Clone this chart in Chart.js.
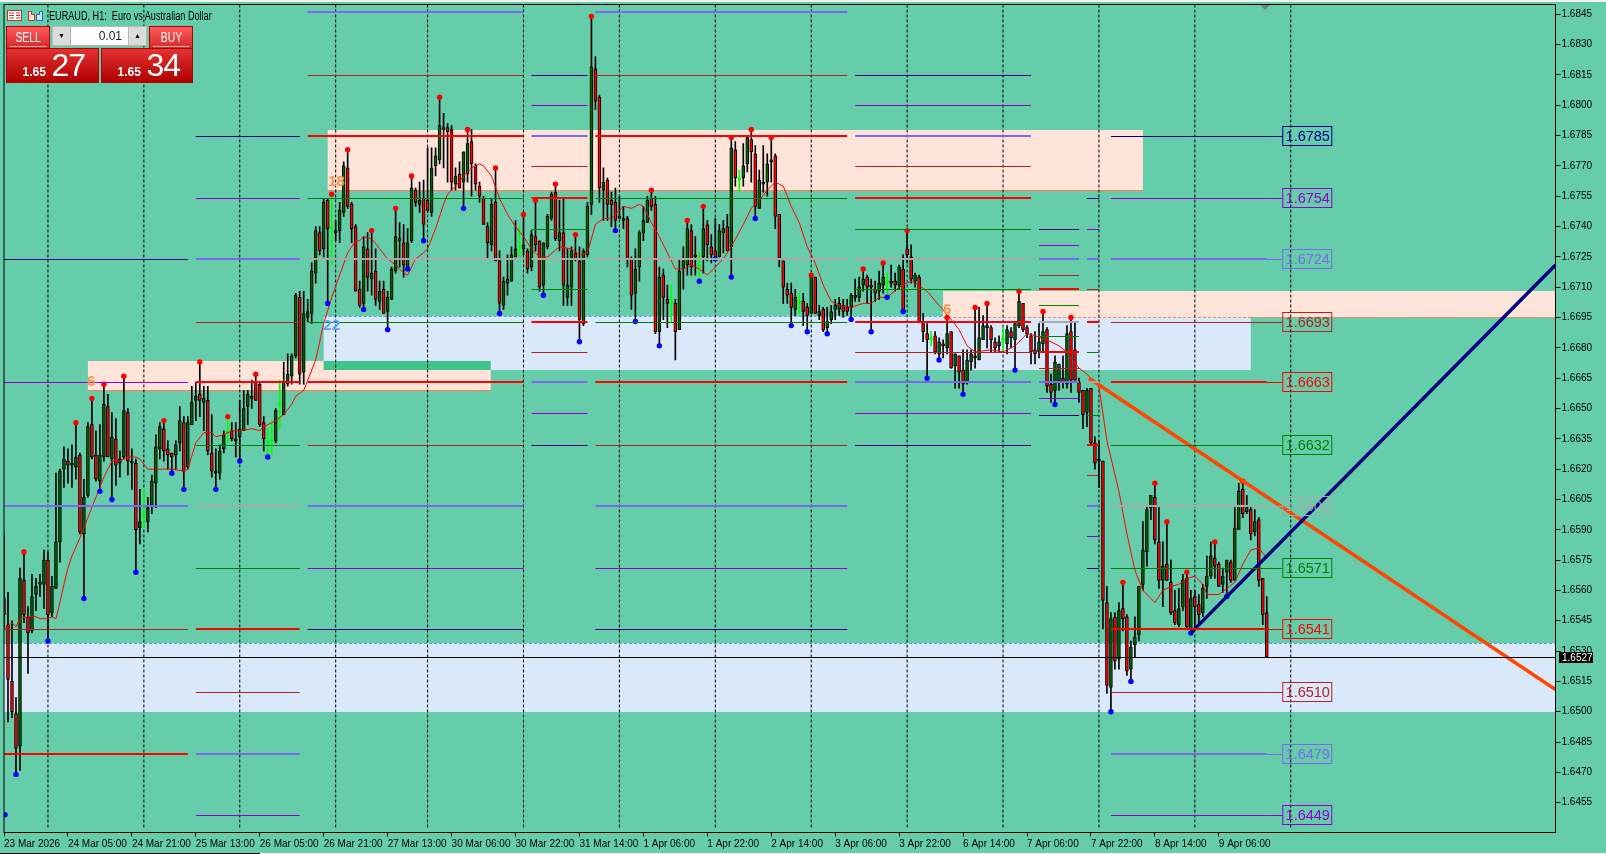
<!DOCTYPE html>
<html>
<head>
<meta charset="utf-8">
<title>EURAUD, H1</title>
<script src="https://cdn.jsdelivr.net/npm/chart.js@4/dist/chart.umd.min.js"></script>
<style>
html, body { margin: 0; padding: 0; background: #66cdaa; width: 1606px; height: 854px; overflow: hidden; }
#wrap { position: relative; width: 1606px; height: 854px; font-family: "Liberation Sans", sans-serif; }
canvas { position: absolute; left: 0; top: 0; }
.abs { position: absolute; box-sizing: border-box; }
#title { left: 49px; top: 9px; font-size: 12px; line-height: 14px; color: #000; white-space: pre; transform: scaleX(0.76); transform-origin: left center; }
.btn { background: linear-gradient(#ff5a5a, #d42a2a); border: 1px solid #b00000; color: #fff; font-size: 14px; text-align: center; }
.btn span { display: inline-block; transform: scaleX(0.74); }
.btn i { position: absolute; left: 3px; right: 3px; bottom: 1px; height: 1px; background: #ffb0b0; }
.px { background: linear-gradient(#e23232, #b00000); border: 1px solid #b00000; color: #fff; text-align: right; white-space: nowrap; }
.px b { font-size: 12px; font-weight: bold; }
.px span { font-size: 32px; line-height: 32px; margin-left: 1px; letter-spacing: -1px; }
</style>
</head>
<body>
<div id="wrap">
  <canvas id="chart" width="1606" height="854"></canvas>
  <div class="abs" style="left:0;top:0;width:1606px;height:2px;background:#f0f4f2"></div>
  <div class="abs" style="left:0;top:853px;width:260px;height:1px;background:#000"></div>
  <div class="abs" style="left:260px;top:853px;width:1346px;height:1px;background:#fff"></div>
  <div class="abs" style="left:1260px;top:5px;width:0;height:0;border-left:5px solid transparent;border-right:5px solid transparent;border-top:5px solid #708090"></div>
  <svg class="abs" style="left:7px;top:10px" width="38" height="12">
    <rect x="0.5" y="0.5" width="14" height="10" fill="#fff" stroke="#c83030"/>
    <path d="M2 3h5M9 3h4M2 5.500h5M9 5.500h4M2 8h5M9 8h4" stroke="#c83030" fill="none"/>
    <path d="M21.500 1.500h3v3h3v6h-6z" fill="#fde0d8" stroke="#c83030"/>
    <path d="M32.500 1.500h3v9h-6v-6h3z" fill="#cfe4f8" stroke="#1a6fb0"/>
  </svg>
  <div class="abs" id="title">EURAUD, H1:  Euro vs Australian Dollar</div>
  <div class="abs btn" style="left:6px;top:26px;width:44px;height:23px;line-height:21px"><span>SELL</span><i></i></div>
  <div class="abs btn" style="left:149px;top:26px;width:44px;height:23px;line-height:21px"><span>BUY</span><i></i></div>
  <div class="abs" style="left:52px;top:26px;width:95px;height:20px;background:#fff;border:1px solid #b8b8b8;font-size:12px;line-height:18px;text-align:right;padding-right:24px;color:#222">0.01</div>
  <div class="abs" style="left:52px;top:26px;width:19px;height:20px;background:#dcdcdc;border:1px solid #b8b8b8;font-size:7px;line-height:18px;text-align:center;color:#000">&#9660;</div>
  <div class="abs" style="left:128px;top:26px;width:19px;height:20px;background:#dcdcdc;border:1px solid #b8b8b8;font-size:7px;line-height:18px;text-align:center;color:#000">&#9650;</div>
  <div class="abs px" style="left:6px;top:48px;width:93px;height:35px;padding-right:13px;line-height:33px"><b>1.65</b> <span>27</span></div>
  <div class="abs px" style="left:101px;top:48px;width:92px;height:35px;padding-right:12px;line-height:33px"><b>1.65</b> <span>34</span></div>
</div>
<script>
const opens = [
1.6556,1.6543,1.6515,1.6499,1.6483,1.6565,1.6547,1.6540,1.6558,1.6563,
1.6563,1.6575,1.6549,1.6561,1.6584,1.6620,1.6624,1.6622,1.6621,1.6627,
1.6588,1.6607,1.6642,1.6627,1.6614,1.6626,1.6651,1.6625,1.6635,1.6623,
1.6626,1.6648,1.6623,1.6623,1.6591,1.6597,1.6594,1.6602,1.6613,1.6630,
1.6640,1.6630,1.6628,1.6627,1.6633,1.6643,1.6621,1.6642,1.6654,1.6657,
1.6653,1.6654,1.6628,1.6618,1.6618,1.6630,1.6638,1.6639,1.6634,1.6636,
1.6639,1.6651,1.6656,1.6663,1.6662,1.6643,1.6633,1.6634,1.6634,1.6652,
1.6647,1.6662,1.6666,1.6676,1.6705,1.6668,1.6695,1.6697,1.6717,1.6737,
1.6729,1.6753,1.6739,1.6737,1.6738,1.6747,1.6769,1.6751,1.6740,1.6709,
1.6702,1.6729,1.6714,1.6718,1.6703,1.6709,1.6698,1.6704,1.6718,1.6734,
1.6732,1.6720,1.6733,1.6758,1.6751,1.6754,1.6753,1.6747,1.6770,1.6773,
1.6789,1.6789,1.6788,1.6761,1.6766,1.6762,1.6766,1.6782,1.6770,1.6760,
1.6754,1.6740,1.6731,1.6752,1.6723,1.6701,1.6712,1.6713,1.6725,1.6730,
1.6729,1.6728,1.6720,1.6735,1.6733,1.6711,1.6730,1.6744,1.6757,1.6733,
1.6737,1.6705,1.6710,1.6727,1.6723,1.6692,1.6726,1.6751,1.6818,1.6804,
1.6758,1.6763,1.6753,1.6752,1.6744,1.6744,1.6744,1.6724,1.6707,1.6720,
1.6737,1.6742,1.6754,1.6751,1.6688,1.6716,1.6704,1.6702,1.6702,1.6689,
1.6719,1.6721,1.6738,1.6725,1.6720,1.6725,1.6741,1.6730,1.6728,1.6725,
1.6737,1.6740,1.6730,1.6778,1.6763,1.6764,1.6771,1.6783,1.6776,1.6749,
1.6761,1.6762,1.6772,1.6775,1.6746,1.6723,1.6709,1.6707,1.6699,1.6702,
1.6703,1.6700,1.6697,1.6715,1.6696,1.6699,1.6690,1.6694,1.6699,1.6699,
1.6701,1.6700,1.6700,1.6705,1.6705,1.6711,1.6715,1.6711,1.6709,1.6708,
1.6711,1.6712,1.6712,1.6713,1.6711,1.6719,1.6729,1.6725,1.6713,1.6715,
1.6692,1.6687,1.6684,1.6686,1.6677,1.6682,1.6680,1.6688,1.6671,1.6676,
1.6669,1.6663,1.6673,1.6676,1.6674,1.6684,1.6690,1.6690,1.6683,1.6681,
1.6684,1.6682,1.6688,1.6684,1.6691,1.6702,1.6690,1.6686,1.6679,1.6678,
1.6682,1.6689,1.6662,1.6659,1.6663,1.6665,1.6662,1.6688,1.6679,1.6663,
1.6659,1.6648,1.6660,1.6633,1.6624,1.6624,1.6554,1.6512,1.6547,1.6526,
1.6551,1.6547,1.6521,1.6533,1.6538,1.6563,1.6579,1.6601,1.6606,1.6584,
1.6565,1.6573,1.6564,1.6550,1.6543,1.6552,1.6566,1.6541,1.6557,1.6553,
1.6549,1.6562,1.6567,1.6576,1.6573,1.6563,1.6569,1.6574,1.6565,1.6590,
1.6610,1.6599,1.6600,1.6589,1.6595,1.6566,1.6549];
const highs = [
1.6588,1.6559,1.6545,1.6507,1.6571,1.6579,1.6552,1.6568,1.6566,1.6568,
1.6580,1.6579,1.6567,1.6618,1.6620,1.6631,1.6630,1.6632,1.6643,1.6628,
1.6615,1.6643,1.6655,1.6639,1.6642,1.6662,1.6657,1.6648,1.6645,1.6629,
1.6666,1.6650,1.6630,1.6625,1.6610,1.6610,1.6606,1.6617,1.6637,1.6643,
1.6644,1.6634,1.6628,1.6634,1.6651,1.6646,1.6646,1.6661,1.6663,1.6673,
1.6661,1.6661,1.6647,1.6630,1.6632,1.6639,1.6646,1.6643,1.6643,1.6654,
1.6659,1.6659,1.6664,1.6667,1.6663,1.6646,1.6640,1.6643,1.6650,1.6664,
1.6673,1.6677,1.6677,1.6707,1.6708,1.6708,1.6704,1.6722,1.6740,1.6740,
1.6754,1.6754,1.6756,1.6743,1.6752,1.6772,1.6778,1.6752,1.6741,1.6713,
1.6735,1.6737,1.6738,1.6729,1.6713,1.6713,1.6708,1.6720,1.6749,1.6742,
1.6741,1.6739,1.6765,1.6759,1.6762,1.6763,1.6779,1.6779,1.6779,1.6804,
1.6796,1.6791,1.6790,1.6769,1.6772,1.6777,1.6788,1.6788,1.6771,1.6762,
1.6755,1.6742,1.6754,1.6769,1.6728,1.6715,1.6726,1.6730,1.6743,1.6740,
1.6746,1.6729,1.6738,1.6753,1.6733,1.6732,1.6746,1.6757,1.6761,1.6753,
1.6754,1.6729,1.6730,1.6736,1.6730,1.6729,1.6752,1.6844,1.6824,1.6805,
1.6769,1.6764,1.6757,1.6759,1.6755,1.6750,1.6745,1.6725,1.6729,1.6738,
1.6750,1.6755,1.6758,1.6755,1.6720,1.6719,1.6711,1.6711,1.6704,1.6724,
1.6730,1.6743,1.6741,1.6735,1.6727,1.6750,1.6743,1.6736,1.6744,1.6741,
1.6743,1.6746,1.6784,1.6782,1.6768,1.6781,1.6785,1.6788,1.6780,1.6768,
1.6780,1.6776,1.6784,1.6776,1.6746,1.6723,1.6712,1.6712,1.6709,1.6707,
1.6707,1.6702,1.6716,1.6715,1.6701,1.6700,1.6700,1.6701,1.6704,1.6705,
1.6704,1.6704,1.6707,1.6714,1.6715,1.6719,1.6716,1.6714,1.6713,1.6718,
1.6722,1.6717,1.6721,1.6717,1.6721,1.6726,1.6738,1.6731,1.6717,1.6716,
1.6697,1.6692,1.6688,1.6688,1.6685,1.6684,1.6695,1.6688,1.6677,1.6676,
1.6679,1.6679,1.6679,1.6700,1.6700,1.6696,1.6702,1.6691,1.6685,1.6686,
1.6690,1.6691,1.6690,1.6692,1.6708,1.6702,1.6691,1.6687,1.6688,1.6692,
1.6698,1.6690,1.6667,1.6676,1.6672,1.6676,1.6691,1.6695,1.6693,1.6665,
1.6659,1.6660,1.6660,1.6636,1.6634,1.6624,1.6562,1.6549,1.6549,1.6554,
1.6564,1.6548,1.6535,1.6547,1.6562,1.6594,1.6602,1.6607,1.6613,1.6601,
1.6584,1.6594,1.6575,1.6560,1.6561,1.6568,1.6569,1.6560,1.6560,1.6558,
1.6563,1.6577,1.6584,1.6584,1.6574,1.6571,1.6575,1.6575,1.6601,1.6613,
1.6614,1.6607,1.6602,1.6600,1.6596,1.6566,1.6557];
const lows = [
1.6542,1.6495,1.6497,1.6469,1.6471,1.6544,1.6519,1.6539,1.6550,1.6557,
1.6551,1.6535,1.6547,1.6561,1.6574,1.6611,1.6613,1.6611,1.6615,1.6588,
1.6556,1.6606,1.6625,1.6614,1.6609,1.6624,1.6626,1.6605,1.6612,1.6616,
1.6625,1.6617,1.6610,1.6569,1.6583,1.6591,1.6589,1.6598,1.6601,1.6625,
1.6624,1.6620,1.6618,1.6620,1.6629,1.6610,1.6620,1.6642,1.6644,1.6646,
1.6639,1.6627,1.6616,1.6610,1.6615,1.6628,1.6633,1.6634,1.6626,1.6624,
1.6639,1.6642,1.6650,1.6654,1.6641,1.6629,1.6626,1.6627,1.6633,1.6640,
1.6647,1.6661,1.6662,1.6675,1.6662,1.6662,1.6693,1.6692,1.6712,1.6726,
1.6725,1.6702,1.6721,1.6733,1.6732,1.6745,1.6749,1.6732,1.6708,1.6700,
1.6699,1.6708,1.6706,1.6701,1.6699,1.6697,1.6689,1.6704,1.6717,1.6720,
1.6715,1.6719,1.6732,1.6750,1.6747,1.6733,1.6747,1.6745,1.6765,1.6771,
1.6769,1.6762,1.6758,1.6758,1.6759,1.6749,1.6762,1.6755,1.6758,1.6752,
1.6741,1.6724,1.6728,1.6723,1.6697,1.6699,1.6706,1.6713,1.6725,1.6725,
1.6726,1.6717,1.6718,1.6728,1.6708,1.6706,1.6729,1.6743,1.6733,1.6728,
1.6701,1.6701,1.6701,1.6723,1.6683,1.6691,1.6725,1.6746,1.6798,1.6752,
1.6743,1.6743,1.6740,1.6738,1.6744,1.6739,1.6720,1.6699,1.6693,1.6713,
1.6733,1.6742,1.6748,1.6687,1.6681,1.6694,1.6690,1.6693,1.6674,1.6689,
1.6709,1.6716,1.6716,1.6716,1.6713,1.6717,1.6723,1.6722,1.6724,1.6725,
1.6727,1.6728,1.6715,1.6760,1.6757,1.6760,1.6767,1.6762,1.6744,1.6749,
1.6757,1.6755,1.6762,1.6739,1.6720,1.6702,1.6702,1.6691,1.6696,1.6697,
1.6691,1.6688,1.6697,1.6697,1.6694,1.6688,1.6687,1.6692,1.6694,1.6696,
1.6695,1.6696,1.6694,1.6703,1.6703,1.6708,1.6702,1.6688,1.6703,1.6704,
1.6707,1.6705,1.6710,1.6708,1.6709,1.6698,1.6722,1.6712,1.6710,1.6693,
1.6683,1.6665,1.6681,1.6677,1.6674,1.6675,1.6677,1.6670,1.6660,1.6660,
1.6657,1.6662,1.6669,1.6670,1.6674,1.6684,1.6680,1.6678,1.6678,1.6678,
1.6678,1.6677,1.6680,1.6669,1.6690,1.6688,1.6685,1.6672,1.6672,1.6675,
1.6678,1.6658,1.6653,1.6652,1.6659,1.6660,1.6660,1.6658,1.6664,1.6653,
1.6640,1.6641,1.6632,1.6620,1.6611,1.6541,1.6509,1.6500,1.6521,1.6521,
1.6540,1.6518,1.6515,1.6527,1.6535,1.6560,1.6572,1.6595,1.6583,1.6561,
1.6552,1.6565,1.6548,1.6543,1.6542,1.6550,1.6541,1.6539,1.6541,1.6544,
1.6547,1.6556,1.6566,1.6566,1.6562,1.6559,1.6557,1.6564,1.6565,1.6590,
1.6596,1.6598,1.6585,1.6587,1.6562,1.6543,1.6527];
const closes = [
1.6548,1.6516,1.6500,1.6482,1.6566,1.6548,1.6539,1.6557,1.6562,1.6564,
1.6575,1.6548,1.6562,1.6584,1.6619,1.6625,1.6622,1.6623,1.6626,1.6589,
1.6606,1.6641,1.6626,1.6615,1.6627,1.6652,1.6626,1.6636,1.6622,1.6625,
1.6649,1.6624,1.6624,1.6590,1.6594,1.6598,1.6601,1.6614,1.6631,1.6641,
1.6629,1.6627,1.6626,1.6632,1.6644,1.6619,1.6643,1.6653,1.6656,1.6654,
1.6655,1.6629,1.6619,1.6619,1.6629,1.6637,1.6639,1.6635,1.6635,1.6640,
1.6650,1.6657,1.6655,1.6654,1.6642,1.6635,1.6634,1.6635,1.6649,1.6653,
1.6663,1.6667,1.6676,1.6706,1.6667,1.6697,1.6698,1.6718,1.6738,1.6728,
1.6752,1.6739,1.6740,1.6738,1.6748,1.6770,1.6750,1.6739,1.6708,1.6701,
1.6730,1.6715,1.6717,1.6704,1.6708,1.6697,1.6705,1.6719,1.6735,1.6733,
1.6721,1.6732,1.6759,1.6752,1.6753,1.6741,1.6748,1.6769,1.6775,1.6790,
1.6788,1.6787,1.6762,1.6765,1.6759,1.6777,1.6781,1.6771,1.6761,1.6755,
1.6741,1.6732,1.6751,1.6723,1.6702,1.6713,1.6714,1.6726,1.6729,1.6731,
1.6731,1.6719,1.6736,1.6731,1.6710,1.6732,1.6745,1.6756,1.6734,1.6737,
1.6711,1.6711,1.6728,1.6724,1.6694,1.6728,1.6750,1.6819,1.6802,1.6759,
1.6762,1.6751,1.6751,1.6743,1.6745,1.6743,1.6724,1.6706,1.6719,1.6737,
1.6743,1.6753,1.6750,1.6688,1.6715,1.6705,1.6702,1.6703,1.6688,1.6718,
1.6723,1.6739,1.6720,1.6726,1.6721,1.6739,1.6731,1.6726,1.6725,1.6738,
1.6739,1.6728,1.6779,1.6764,1.6764,1.6770,1.6784,1.6777,1.6750,1.6763,
1.6762,1.6771,1.6773,1.6745,1.6724,1.6710,1.6706,1.6700,1.6705,1.6703,
1.6698,1.6696,1.6715,1.6697,1.6698,1.6689,1.6693,1.6698,1.6701,1.6702,
1.6698,1.6698,1.6706,1.6706,1.6710,1.6714,1.6710,1.6710,1.6707,1.6712,
1.6715,1.6713,1.6713,1.6711,1.6720,1.6699,1.6726,1.6714,1.6716,1.6693,
1.6688,1.6684,1.6685,1.6678,1.6683,1.6681,1.6687,1.6670,1.6677,1.6668,
1.6662,1.6674,1.6677,1.6675,1.6685,1.6691,1.6691,1.6684,1.6680,1.6683,
1.6685,1.6689,1.6685,1.6692,1.6703,1.6689,1.6687,1.6678,1.6677,1.6683,
1.6688,1.6661,1.6658,1.6673,1.6672,1.6663,1.6687,1.6664,1.6664,1.6658,
1.6647,1.6659,1.6633,1.6623,1.6625,1.6555,1.6513,1.6546,1.6525,1.6550,
1.6546,1.6520,1.6532,1.6537,1.6562,1.6580,1.6600,1.6607,1.6585,1.6565,
1.6572,1.6565,1.6549,1.6544,1.6551,1.6565,1.6542,1.6556,1.6552,1.6548,
1.6561,1.6567,1.6577,1.6572,1.6562,1.6567,1.6575,1.6565,1.6591,1.6609,
1.6598,1.6601,1.6588,1.6594,1.6565,1.6548,1.6527];

// bars that print as thin lime spikes
const limeBars = [35,56,66,67,69,82,129,167,174,184,199,221,232,250];
const redDotBars = [5,18,22,25,30,40,49,56,63,82,86,92,98,102,109,116,123,130,133,138,143,147,162,171,175,182,187,192,202,215,220,226,236,243,246,254,260,267,280,288,291,296,303,310];
const blueDotBars = [3,11,20,24,27,33,42,45,53,59,66,81,90,96,101,105,115,124,135,144,153,158,164,174,178,182,188,197,201,206,212,217,221,225,231,234,240,253,263,277,282,297,306];

const maBars = [0,2,3,4,6,8,9,11,12,13,14,15,16,17,19,21,23,25,27,29,31,33,34,36,38,40,42,45,46,48,50,52,53,55,57,59,62,64,65,68,70,72,73,75,76,78,80,82,84,86,88,89,90,92,94,96,98,100,101,103,105,106,108,110,111,113,115,117,119,120,122,124,126,128,130,132,134,136,139,142,144,146,148,150,152,155,157,159,160,162,164,166,168,170,172,174,176,178,180,182,185,187,189,191,193,195,197,199,201,203,205,207,209,212,215,217,219,221,224,227,229,231,234,237,239,241,243,247,250,253,256,258,262,264,266,269,271,274,276,279,281,283,285,287,288,290,292,294,296,298,300,301,304,306,308,310,312,314,316];
const maValues = [1.6541,1.6544,1.6542,1.6546,1.6547,1.6547,1.6546,1.6546,1.6547,1.6546,1.6554,1.6563,1.6571,1.6577,1.6586,1.6596,1.6606,1.6616,1.6624,1.6624,1.6626,1.6626,1.6625,1.6620,1.6620,1.6620,1.6620,1.6619,1.6620,1.6633,1.6638,1.6638,1.6636,1.6637,1.6639,1.6639,1.6640,1.6639,1.6641,1.6644,1.6647,1.6652,1.6656,1.6659,1.6664,1.6674,1.6692,1.6705,1.6716,1.6727,1.6733,1.6733,1.6735,1.6734,1.6729,1.6724,1.6721,1.6717,1.6716,1.6724,1.6727,1.6729,1.6739,1.6751,1.6756,1.6760,1.6765,1.6769,1.6771,1.6770,1.6765,1.6754,1.6746,1.6740,1.6735,1.6729,1.6725,1.6725,1.6730,1.6729,1.6726,1.6727,1.6741,1.6744,1.6744,1.6750,1.6749,1.6751,1.6750,1.6742,1.6735,1.6727,1.6719,1.6719,1.6721,1.6719,1.6716,1.6720,1.6724,1.6730,1.6741,1.6749,1.6753,1.6758,1.6762,1.6760,1.6750,1.6742,1.6730,1.6722,1.6711,1.6703,1.6701,1.6700,1.6702,1.6702,1.6705,1.6705,1.6710,1.6713,1.6711,1.6708,1.6701,1.6694,1.6689,1.6681,1.6678,1.6679,1.6678,1.6681,1.6687,1.6686,1.6683,1.6681,1.6678,1.6670,1.6667,1.6661,1.6634,1.6609,1.6588,1.6570,1.6560,1.6556,1.6554,1.6560,1.6562,1.6563,1.6566,1.6567,1.6563,1.6558,1.6558,1.6561,1.6564,1.6573,1.6580,1.6581,1.6576];

const gridBars = [11,35,59,83,106,130,154,178,202,226,250,274,298,322];
const xTickBars = [0,16,32,48,64,80,96,112,128,144,160,176,192,208,224,240,256,272,288,304];
const xTickLabels = ['23 Mar 2026','24 Mar 05:00','24 Mar 21:00','25 Mar 13:00','26 Mar 05:00','26 Mar 21:00','27 Mar 13:00','30 Mar 06:00','30 Mar 22:00','31 Mar 14:00','1 Apr 06:00','1 Apr 22:00','2 Apr 14:00','3 Apr 06:00','3 Apr 22:00','6 Apr 14:00','7 Apr 06:00','7 Apr 22:00','8 Apr 14:00','9 Apr 06:00'];
const yTicks = [1.6845,1.6830,1.6815,1.6800,1.6785,1.6770,1.6755,1.6740,1.6725,1.6710,1.6695,1.6680,1.6665,1.6650,1.6635,1.6620,1.6605,1.6590,1.6575,1.6560,1.6545,1.6530,1.6515,1.6500,1.6485,1.6470,1.6455];

const lastPrice = 1.6527;
const extraLowDot = [0.25, 1.6449];
const xMax = 388.25;

// level sets, one per session block
const wideLevels = [1.6785,1.6754,1.6724,1.6693,1.6663,1.6632,1.6602,1.6571,1.6541,1.6510,1.6479,1.6449];
const wideKinds = ['n','p','s','b','R','g','a','g','R','b','s','p'];
const upperLevels = [1.6846,1.6815,1.6785,1.6754,1.6724,1.6693,1.6663,1.6632,1.6602,1.6571,1.6541];
const upperKinds = ['s','b','R','g','a','g','R','b','s','p','n'];
const midLevels = [1.6815,1.6800,1.6785,1.6770,1.6754,1.6739,1.6724,1.6709,1.6693,1.6678,1.6663,1.6648,1.6632];
const midKinds = ['n','p','s','b','R','g','a','g','R','b','s','p','n'];
const narrowLevels = [1.6739,1.6731,1.6724,1.6716,1.6709,1.6701,1.6693,1.6686,1.6678,1.6670,1.6663,1.6655,1.6647];
const lowerLevels = [1.6754,1.6739,1.6724,1.6709,1.6693,1.6678,1.6663,1.6647,1.6632,1.6617,1.6602,1.6587,1.6571];
const lowerKinds = ['n','p','s','b','R','g','a','g','R','b','s','p','n'];
const firstLevels = [1.6724,1.6663,1.6602,1.6541,1.6479];
const firstKinds = ['n','p','s','b','R'];

const blocks = [
  [0,46,firstLevels,firstKinds],
  [48,74,wideLevels,wideKinds],
  [76,130,upperLevels,upperKinds],
  [132,146,midLevels,midKinds],
  [148,211,upperLevels,upperKinds],
  [213,257,midLevels,midKinds],
  [259,269,narrowLevels,midKinds],
  [271,274,lowerLevels,lowerKinds],
  [277,316,wideLevels,wideKinds]
];
const kindColor = { n:'#000080', p:'#9400d3', s:'#7b68ee', b:'#b22222', R:'#ff0000', g:'#008000', a:'#a9a9a9' };
const thickKinds = 'sRa';
const labelKinds = { n:'#00008b', p:'#9400d3', s:'#7b68ee', b:'#b22222', R:'#ff0000', g:'#008000', a:'#a9a9a9' };

const zoneStart = [21,81,80,235,0,80];
const zoneEnd = [121.8,285,312,388.25,388.25,121.8];
const zoneTop = [1.66735,1.6788,1.66958,1.6708,1.65341,1.66735];
const zoneBottom = [1.6659,1.6758,1.6669,1.66953,1.6500,1.6669];
const zoneColor = ['#fde3d8','#fde3d8','#dae9f9','#fde3d8','#dae9f9','#3fc48b'];

const counterBars = [21.8,83.2,82,236];
const counterPrices = [1.6663,1.6762,1.6691,1.6699];
const counterTexts = ['6','18','22','6'];
const counterColors = ['#f4944a','#f4944a','#5aa5e8','#f4944a'];

const riseLine = [[297,1.6539],[388.25,1.6721]];
const fallLine = [[271.5,1.6665],[388.25,1.6511]];

const barIndex = opens.map((v, i) => i);
const isLime = barIndex.map(i => limeBars.indexOf(i) >= 0);

const wickData = barIndex.map(i => ({ x: i, y: [lows[i], highs[i]] }));
const bodyData = barIndex.map(i => ({ x: i, y: [Math.min(opens[i], closes[i]), Math.max(opens[i], closes[i])] }));
const bodyFill = barIndex.map(i => isLime[i] ? '#00ff00' : (closes[i] >= opens[i] ? '#006400' : '#ff0000'));
const bodyEdge = barIndex.map(i => isLime[i] ? '#00ff00' : '#000000');
const wickColor = barIndex.map(i => isLime[i] ? '#00ff00' : '#000000');

const overlay = {
  id: 'overlay',
  beforeDatasetsDraw(chart) {
    const c = chart.ctx, x = chart.scales.x, y = chart.scales.y, a = chart.chartArea;
    c.save();
    c.beginPath(); c.rect(a.left, a.top, a.width, a.height); c.clip();
    zoneStart.forEach((s, i) => {
      const x0 = x.getPixelForValue(s), x1 = x.getPixelForValue(zoneEnd[i]);
      const y0 = Math.round(y.getPixelForValue(zoneTop[i])), y1 = Math.round(y.getPixelForValue(zoneBottom[i]));
      c.fillStyle = zoneColor[i];
      c.fillRect(x0, y0, x1 - x0, y1 - y0);
      if (zoneColor[i] === '#fde3d8') {
        c.strokeStyle = '#ff7f50'; c.lineWidth = 1;
        c.setLineDash(i === 3 ? [3, 2] : []);
        c.beginPath(); c.moveTo(x0, y1 + 0.5); c.lineTo(x1, y1 + 0.5); c.stroke();
      } else if (zoneColor[i] === '#dae9f9') {
        c.strokeStyle = '#4ea3e5'; c.lineWidth = 1;
        c.setLineDash([3, 2]);
        c.beginPath(); c.moveTo(x0, y0 + 0.5); c.lineTo(x1, y0 + 0.5); c.stroke();
      }
    });
    c.strokeStyle = '#000'; c.lineWidth = 1; c.setLineDash([3, 2]);
    gridBars.forEach(k => {
      const px = x.getPixelForValue(k);
      c.beginPath(); c.moveTo(px, a.top); c.lineTo(px, a.bottom - 3); c.stroke();
    });
    c.restore();
  },
  afterDatasetsDraw(chart) {
    const c = chart.ctx, x = chart.scales.x, y = chart.scales.y, a = chart.chartArea;
    c.save();
    c.beginPath(); c.rect(a.left, a.top, a.width, a.height); c.clip();
    blocks.forEach((b, bi) => {
      const x0 = x.getPixelForValue(b[0]), x1 = x.getPixelForValue(b[1]);
      b[2].forEach((p, i) => {
        const row = Math.round(y.getPixelForValue(p));
        const kind = b[3][i];
        const h = thickKinds.indexOf(kind) >= 0 ? 2 : 1;
        c.fillStyle = kindColor[kind];
        c.fillRect(x0, row - (h - 1), x1 - x0, h);
        if (bi === blocks.length - 1) {
          c.fillRect(x1, row, x.getPixelForValue(320) - x1, 1);
        }
      });
    });
    // last price line
    const py = Math.round(y.getPixelForValue(lastPrice));
    c.fillStyle = '#000';
    c.fillRect(a.left, py, a.width, 1);
    // boxed price tags at the end of the last block
    const bx = x.getPixelForValue(320);
    c.font = '14.5px "Liberation Sans"';
    c.textBaseline = 'middle'; c.textAlign = 'center';
    wideLevels.forEach((p, i) => {
      const row = Math.round(y.getPixelForValue(p));
      const col = labelKinds[wideKinds[i]];
      c.strokeStyle = col; c.fillStyle = col; c.lineWidth = 1;
      c.strokeRect(bx, row - 9.5, 49, 19);
      c.fillText(p.toFixed(4), bx + 25, row + 1);
    });
    c.font = 'bold 15px "Liberation Sans"';
    counterTexts.forEach((t, i) => {
      c.fillStyle = counterColors[i];
      c.fillText(t, x.getPixelForValue(counterBars[i]), y.getPixelForValue(counterPrices[i]));
    });
    c.restore();
  },
  afterDraw(chart) {
    const c = chart.ctx, y = chart.scales.y, a = chart.chartArea;
    c.save();
    c.strokeStyle = '#000'; c.lineWidth = 1;
    c.strokeRect(a.left, a.top, a.width, a.height);
    const py = Math.round(y.getPixelForValue(lastPrice));
    c.fillStyle = '#000';
    c.fillRect(Math.round(a.right) + 3, py - 5, 34, 11);
    c.fillStyle = '#fff';
    c.font = '10px "Liberation Sans"';
    c.textBaseline = 'middle'; c.textAlign = 'left';
    c.fillText(lastPrice.toFixed(4), Math.round(a.right) + 6, py + 1);
    c.restore();
  }
};

const lineOf = (pts, color, width, order) => ({
  type: 'line',
  data: pts.map(p => ({ x: p[0], y: p[1] })),
  borderColor: color,
  borderWidth: width,
  pointRadius: 0,
  tension: 0,
  order: order
});

const chart = new Chart(document.getElementById('chart').getContext('2d'), {
  type: 'bar',
  data: {
    datasets: [
      { data: wickData, backgroundColor: wickColor, barThickness: 1, grouped: false, order: 6 },
      { data: bodyData, backgroundColor: bodyFill, borderColor: bodyEdge, borderWidth: 1, borderSkipped: false, barThickness: 3, grouped: false, order: 5 },
      lineOf(maBars.map((k, i) => [k, maValues[i]]), '#ff0000', 1, 4),
      { type: 'scatter', data: redDotBars.map(k => ({ x: k, y: highs[k] })), backgroundColor: '#ff0000', borderWidth: 0, pointRadius: 2.7, order: 3 },
      { type: 'scatter', data: blueDotBars.map(k => ({ x: k, y: lows[k] })).concat([{ x: extraLowDot[0], y: extraLowDot[1] }]), backgroundColor: '#0000ff', borderWidth: 0, pointRadius: 2.7, order: 3 },
      lineOf(fallLine, '#ff4500', 3.5, 2),
      lineOf(riseLine, '#000080', 3.5, 1)
    ]
  },
  options: {
    responsive: false,
    animation: false,
    events: [],
    devicePixelRatio: 1,
    layout: { padding: { left: 2.5, top: 4.5, right: 0, bottom: 0 } },
    plugins: { legend: { display: false }, tooltip: { enabled: false }, title: { display: false } },
    scales: {
      x: {
        type: 'linear', min: 0, max: xMax, offset: false,
        grid: { display: true, drawOnChartArea: false, drawTicks: true, tickLength: 4, color: '#000', offset: false },
        border: { display: false },
        afterBuildTicks(axis) { axis.ticks = xTickBars.map(v => ({ value: v })); },
        afterFit(axis) { axis.height = 21.5; axis.paddingLeft = 0; axis.paddingRight = 0; },
        ticks: {
          autoSkip: false, maxRotation: 0, minRotation: 0, align: 'start', padding: 2, color: '#000',
          font: { family: '"Liberation Sans"', size: 10 },
          callback(v) { return xTickLabels[xTickBars.indexOf(v)]; }
        }
      },
      y: {
        type: 'linear', position: 'right', min: 1.644025, max: 1.684985, beginAtZero: false,
        grid: { display: true, drawOnChartArea: false, drawTicks: true, tickLength: 5, color: '#000' },
        border: { display: false },
        afterBuildTicks(axis) { axis.ticks = yTicks.map(v => ({ value: v })); },
        afterFit(axis) { axis.width = 50.5; axis.paddingTop = 0; axis.paddingBottom = 0; },
        ticks: {
          autoSkip: false, padding: 1, color: '#000', includeBounds: false,
          font: { family: '"Liberation Sans"', size: 10 },
          callback(v) { return Number(v).toFixed(4); }
        }
      }
    }
  },
  plugins: [overlay]
});

// nudge the padding so the plot frame lands on the reference pixels
const pad = chart.options.layout.padding;
const area = chart.chartArea;
pad.left += 2.5 - area.left;
pad.top += 4.5 - area.top;
pad.right += area.right - 1555.5;
pad.bottom += area.bottom - 832.5;
chart.update();
</script>
</body>
</html>
